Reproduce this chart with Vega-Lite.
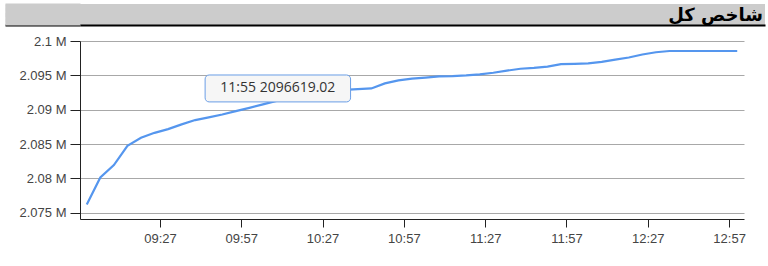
{
  "$schema": "https://vega.github.io/schema/vega-lite/v6.json",
  "background": "white",
  "padding": {"left": 3, "top": 3, "right": 3, "bottom": 0},
  "spacing": 9,
  "config": {"view": {"stroke": null}, "font": "Liberation Sans"},
  "datasets": {
    "index": [
      {"time": "2024-01-01T09:00:00", "value": 2076206},
      {"time": "2024-01-01T09:05:00", "value": 2080130},
      {"time": "2024-01-01T09:10:00", "value": 2081933},
      {"time": "2024-01-01T09:15:00", "value": 2084738},
      {"time": "2024-01-01T09:20:00", "value": 2085901},
      {"time": "2024-01-01T09:25:00", "value": 2086628},
      {"time": "2024-01-01T09:30:00", "value": 2087166},
      {"time": "2024-01-01T09:35:00", "value": 2087863},
      {"time": "2024-01-01T09:40:00", "value": 2088488},
      {"time": "2024-01-01T09:45:00", "value": 2088881},
      {"time": "2024-01-01T09:50:00", "value": 2089302},
      {"time": "2024-01-01T09:55:00", "value": 2089782},
      {"time": "2024-01-01T10:00:00", "value": 2090262},
      {"time": "2024-01-01T10:05:00", "value": 2090770},
      {"time": "2024-01-01T10:10:00", "value": 2091279},
      {"time": "2024-01-01T10:15:00", "value": 2091570},
      {"time": "2024-01-01T10:20:00", "value": 2091860},
      {"time": "2024-01-01T10:25:00", "value": 2092224},
      {"time": "2024-01-01T10:30:00", "value": 2092587},
      {"time": "2024-01-01T10:35:00", "value": 2092878},
      {"time": "2024-01-01T10:40:00", "value": 2092980},
      {"time": "2024-01-01T10:45:00", "value": 2093096},
      {"time": "2024-01-01T10:50:00", "value": 2093823},
      {"time": "2024-01-01T10:55:00", "value": 2094259},
      {"time": "2024-01-01T11:00:00", "value": 2094520},
      {"time": "2024-01-01T11:05:00", "value": 2094666},
      {"time": "2024-01-01T11:10:00", "value": 2094840},
      {"time": "2024-01-01T11:15:00", "value": 2094884},
      {"time": "2024-01-01T11:20:00", "value": 2094985},
      {"time": "2024-01-01T11:25:00", "value": 2095131},
      {"time": "2024-01-01T11:30:00", "value": 2095378},
      {"time": "2024-01-01T11:35:00", "value": 2095683},
      {"time": "2024-01-01T11:40:00", "value": 2095959},
      {"time": "2024-01-01T11:45:00", "value": 2096076},
      {"time": "2024-01-01T11:50:00", "value": 2096265},
      {"time": "2024-01-01T11:55:00", "value": 2096619.02},
      {"time": "2024-01-01T12:00:00", "value": 2096671},
      {"time": "2024-01-01T12:05:00", "value": 2096730},
      {"time": "2024-01-01T12:10:00", "value": 2096948},
      {"time": "2024-01-01T12:15:00", "value": 2097282},
      {"time": "2024-01-01T12:20:00", "value": 2097602},
      {"time": "2024-01-01T12:25:00", "value": 2098038},
      {"time": "2024-01-01T12:30:00", "value": 2098358},
      {"time": "2024-01-01T12:35:00", "value": 2098546},
      {"time": "2024-01-01T12:40:00", "value": 2098546},
      {"time": "2024-01-01T12:45:00", "value": 2098546},
      {"time": "2024-01-01T12:50:00", "value": 2098546},
      {"time": "2024-01-01T12:55:00", "value": 2098546},
      {"time": "2024-01-01T13:00:00", "value": 2098546}
    ],
    "tip": [
      {"t1": "2024-01-01T09:43:40", "t2": "2024-01-01T10:37:20", "tm": "2024-01-01T10:10:30", "v1": 2095050, "v2": 2091130, "vm": 2093090, "label": "11:55 2096619.02"}
    ]
  },
  "vconcat": [
    {
      "width": 685,
      "height": 21,
      "view": {"fill": "#cccccc", "cornerRadius": 0},
      "data": {"values": [{"title": "شاخص کل"}]},
      "mark": {"type": "text", "align": "right", "baseline": "middle", "dx": -2, "dy": 1, "fontSize": 18, "fontWeight": "bold", "font": "DejaVu Sans", "color": "black"},
      "encoding": {
        "text": {"field": "title", "type": "nominal"},
        "x": {"datum": 1, "type": "quantitative", "scale": {"domain": [0, 1]},
          "axis": {"domain": true, "domainColor": "black", "domainWidth": 2, "ticks": false, "labels": false, "grid": false, "title": null, "minExtent": 0, "maxExtent": 0, "zindex": 2}},
        "y": {"datum": 0.5, "type": "quantitative", "scale": {"domain": [0, 1], "nice": false, "zero": false},
          "axis": {"values": [1, 0.95, 0.9, 0.85, 0.8, 0.75, 0.7, 0.65, 0.6, 0.55, 0.5, 0.45, 0.4, 0.35, 0.3, 0.25, 0.2, 0.15, 0.1, 0.05, 0],
            "tickCount": 50, "domain": false, "labels": false, "grid": false, "title": null,
            "ticks": true, "tickSize": 75, "tickCap": "butt", "tickRound": false, "tickWidth": 2,
            "tickColor": {"condition": {"test": "datum.value == 0", "value": "black"}, "value": "#cccccc"},
            "minExtent": 0, "maxExtent": 77, "zindex": 1}}
      }
    },
    {
      "width": 664,
      "height": 178,
      "layer": [
        {
          "data": {"name": "index"},
          "mark": {"type": "line", "color": "#5596ee", "strokeWidth": 2.2},
          "encoding": {
            "x": {"field": "time", "type": "temporal",
              "scale": {"domain": [
                {"year": 2024, "month": 1, "date": 1, "hours": 8, "minutes": 57, "seconds": 30},
                {"year": 2024, "month": 1, "date": 1, "hours": 13, "minutes": 2, "seconds": 30}]},
              "axis": {
                "values": [
                  {"year": 2024, "month": 1, "date": 1, "hours": 9, "minutes": 27},
                  {"year": 2024, "month": 1, "date": 1, "hours": 9, "minutes": 57},
                  {"year": 2024, "month": 1, "date": 1, "hours": 10, "minutes": 27},
                  {"year": 2024, "month": 1, "date": 1, "hours": 10, "minutes": 57},
                  {"year": 2024, "month": 1, "date": 1, "hours": 11, "minutes": 27},
                  {"year": 2024, "month": 1, "date": 1, "hours": 11, "minutes": 57},
                  {"year": 2024, "month": 1, "date": 1, "hours": 12, "minutes": 27},
                  {"year": 2024, "month": 1, "date": 1, "hours": 12, "minutes": 57}
                ],
                "tickCount": 20,
                "format": "%H:%M", "title": null, "grid": false,
                "domainColor": "#222", "tickColor": "#222", "tickSize": 8,
                "labelFontSize": 13, "labelColor": "#444", "labelPadding": 5, "labelFlush": false
              }
            },
            "y": {"field": "value", "type": "quantitative",
              "scale": {"domain": [2074080, 2100000], "zero": false, "nice": false},
              "axis": {
                "values": [2075000, 2080000, 2085000, 2090000, 2095000, 2100000],
                "tickCount": 10,
                "labelExpr": "format(datum.value / 1000000, '.4~f') + ' M'",
                "title": null, "grid": true, "gridColor": "#a8a8a8", "gridWidth": 1,
                "domainColor": "#222", "tickColor": "#222", "tickSize": 10,
                "labelFontSize": 13, "labelColor": "#444", "labelPadding": 4,
                "minExtent": 77, "maxExtent": 77
              }
            }
          }
        },
        {
          "data": {"name": "tip"},
          "mark": {"type": "rect", "fill": "#f6f6f6", "stroke": "#6a9ee6", "strokeWidth": 1, "cornerRadius": 4},
          "encoding": {
            "x": {"field": "t1", "type": "temporal"},
            "x2": {"field": "t2"},
            "y": {"field": "v1", "type": "quantitative"},
            "y2": {"field": "v2"}
          }
        },
        {
          "data": {"name": "tip"},
          "mark": {"type": "text", "fontSize": 14, "font": "Open Sans", "color": "#333", "align": "center", "baseline": "middle"},
          "encoding": {
            "x": {"field": "tm", "type": "temporal"},
            "y": {"field": "vm", "type": "quantitative"},
            "text": {"field": "label", "type": "nominal"}
          }
        }
      ]
    }
  ]
}
